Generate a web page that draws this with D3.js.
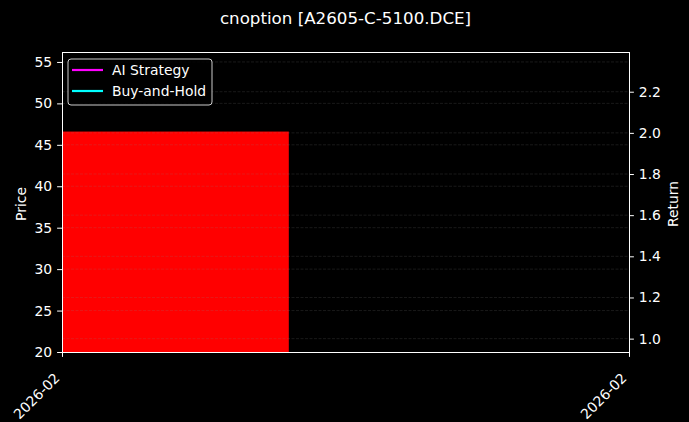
<!DOCTYPE html>
<html>
<head>
<meta charset="utf-8">
<script src="https://cdn.jsdelivr.net/npm/d3@7"></script>
<style>
  body { margin: 0; background: #000; }
  svg { display: block; font-family: "DejaVu Sans", sans-serif; }
</style>
</head>
<body>
<div id="chart"></div>
<script>
// chart values
const titleText = 'cnoption [A2605-C-5100.DCE]';
const xDomain = ['2026-02-10', '2026-02-15'];
const barStart = ['2026-02-10'];
const barEnd = ['2026-02-12'];
const barPrice = [46.6];
const priceDomain = [20, 56.2];
const priceTicks = [20, 25, 30, 35, 40, 45, 50, 55];
const returnDomain = [0.935, 2.393];
const returnTicks = [1.0, 1.2, 1.4, 1.6, 1.8, 2.0, 2.2];
const seriesNames = ['AI Strategy', 'Buy-and-Hold'];
const seriesColors = ['#ff00ff', '#00ffff'];

const width = 689, height = 422;
const margin = { top: 52, right: 60, bottom: 70, left: 62 };
const innerW = width - margin.left - margin.right;
const innerH = height - margin.top - margin.bottom;
const parse = d3.timeParse('%Y-%m-%d');
const tickFont = '13.9px';

const svg = d3.select('#chart').append('svg')
  .attr('width', width)
  .attr('height', height)
  .style('background', '#000');

const chart = svg.append('g')
  .attr('transform', `translate(${margin.left},${margin.top})`);

const x = d3.scaleTime().domain(xDomain.map(parse)).range([0, innerW]);
const yPrice = d3.scaleLinear().domain(priceDomain).range([innerH, 0]);
const yReturn = d3.scaleLinear().domain(returnDomain).range([innerH, 0]);

// bars
chart.selectAll('.bar')
  .data(barPrice)
  .join('rect')
  .attr('class', 'bar')
  .attr('x', (d, i) => x(parse(barStart[i])))
  .attr('width', (d, i) => x(parse(barEnd[i])) - x(parse(barStart[i])))
  .attr('y', d => yPrice(d))
  .attr('height', d => innerH - yPrice(d))
  .attr('fill', '#ff0000');

// gridlines (left and right)
const gridStyle = g => g.attr('stroke', '#808080')
  .attr('stroke-opacity', 0.28)
  .attr('stroke-width', 0.7)
  .attr('stroke-dasharray', '3,1.5');

chart.append('g').selectAll('line')
  .data(priceTicks.filter(d => d > priceDomain[0]))
  .join('line')
  .attr('x1', 0).attr('x2', innerW)
  .attr('y1', d => yPrice(d)).attr('y2', d => yPrice(d))
  .call(gridStyle);

chart.append('g').selectAll('line')
  .data(returnTicks)
  .join('line')
  .attr('x1', 0).attr('x2', innerW)
  .attr('y1', d => yReturn(d)).attr('y2', d => yReturn(d))
  .call(gridStyle);

// axes
const styleAxis = g => {
  g.selectAll('.domain').remove();
  g.selectAll('line').attr('stroke', '#fff');
  g.selectAll('text').attr('fill', '#fff').style('font-size', tickFont)
    .style('font-family', '"DejaVu Sans", sans-serif');
};

chart.append('g')
  .call(d3.axisLeft(yPrice).tickValues(priceTicks).tickSize(4.9).tickPadding(4.9).tickFormat(d3.format('d')))
  .call(styleAxis);

chart.append('g')
  .attr('transform', `translate(${innerW},0)`)
  .call(d3.axisRight(yReturn).tickValues(returnTicks).tickSize(4.9).tickPadding(4.9).tickFormat(d3.format('.1f')))
  .call(styleAxis);

const xAxisG = chart.append('g')
  .attr('transform', `translate(0,${innerH})`)
  .call(d3.axisBottom(x).tickValues(xDomain.map(parse)).tickSize(4.9).tickFormat(d3.timeFormat('%Y-%m')))
  .call(styleAxis);

xAxisG.selectAll('text')
  .attr('text-anchor', 'end')
  .attr('x', 0)
  .attr('y', 0)
  .attr('dy', 0)
  .attr('transform', 'translate(-2,27) rotate(-45)');

// frame
chart.append('rect')
  .attr('width', innerW)
  .attr('height', innerH)
  .attr('fill', 'none')
  .attr('stroke', '#fff')
  .attr('stroke-width', 1)
  .attr('shape-rendering', 'crispEdges');

// labels
svg.append('text')
  .attr('x', width / 2 + 1)
  .attr('y', 24)
  .attr('text-anchor', 'middle')
  .attr('fill', '#fff')
  .style('font-size', '16.7px')
  .text(titleText);

svg.append('text')
  .attr('transform', `translate(26,${margin.top + innerH / 2 + 2}) rotate(-90)`)
  .attr('text-anchor', 'middle')
  .attr('fill', '#fff')
  .style('font-size', tickFont)
  .text('Price');

svg.append('text')
  .attr('transform', `translate(678,${margin.top + innerH / 2 + 2}) rotate(-90)`)
  .attr('text-anchor', 'middle')
  .attr('fill', '#fff')
  .style('font-size', tickFont)
  .text('Return');

// legend
const legend = chart.append('g').attr('transform', 'translate(6,7)');
legend.append('rect')
  .attr('width', 144)
  .attr('height', 46)
  .attr('rx', 3)
  .attr('fill', '#000')
  .attr('fill-opacity', 0.8)
  .attr('stroke', '#cccccc')
  .attr('stroke-width', 1);

const items = legend.selectAll('.item')
  .data(seriesNames)
  .join('g')
  .attr('class', 'item')
  .attr('transform', (d, i) => `translate(0,${11 + i * 21})`);

items.append('line')
  .attr('x1', 4).attr('x2', 35)
  .attr('stroke', (d, i) => seriesColors[i])
  .attr('stroke-width', 2.2);

items.append('text')
  .attr('x', 44)
  .attr('dy', '0.35em')
  .attr('fill', '#fff')
  .style('font-size', tickFont)
  .text(d => d);
</script>
</body>
</html>
